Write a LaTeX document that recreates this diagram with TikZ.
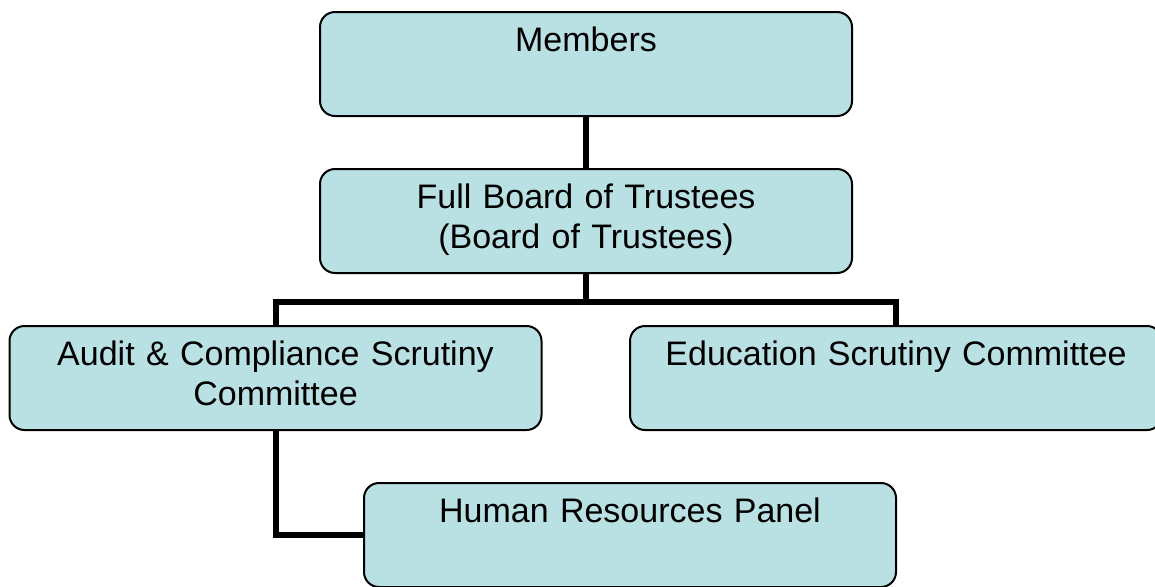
\documentclass[tikz,border=0pt]{standalone}
\usepackage{fontspec}
\setmainfont{Liberation Sans}
\usepackage{tikz}
\definecolor{boxfill}{RGB}{185,224,227}
\tikzstyle{box} = [rectangle, draw, line width=1pt, rounded corners=7.5pt, fill=boxfill, anchor=north, inner xsep=0pt, inner ysep=0pt, text width=266pt, align=center, text height=19.5pt, text depth=32.5pt, font=\fontsize{17}{20}\selectfont]
\tikzstyle{link} = [line width=3pt]

\begin{document}
\begin{tikzpicture}[x=0.5pt, y=-0.5pt]
        \useasboundingbox (0,0) rectangle (1155,586);
        \node (members) [box] at (586,11) {Members};
        \node (board) [box] at (586,168) {Full Board of Trustees\\(Board of Trustees)};
        \node (audit) [box] at (275.5,325) {Audit \& Compliance Scrutiny\\Committee};
        \node (education) [box] at (896,325) {Education Scrutiny Committee};
        \node (hr) [box] at (630,482) {Human Resources Panel};
        
        \draw [link] (members) -- (board);
        \draw [link] (board.south) -- ++(0,28) coordinate(split) -| (audit.north);
        \draw [link] (split) -| (education.north);
        \draw [link] (audit.south) |- (hr.west);
        
    \end{tikzpicture}
\end{document}
